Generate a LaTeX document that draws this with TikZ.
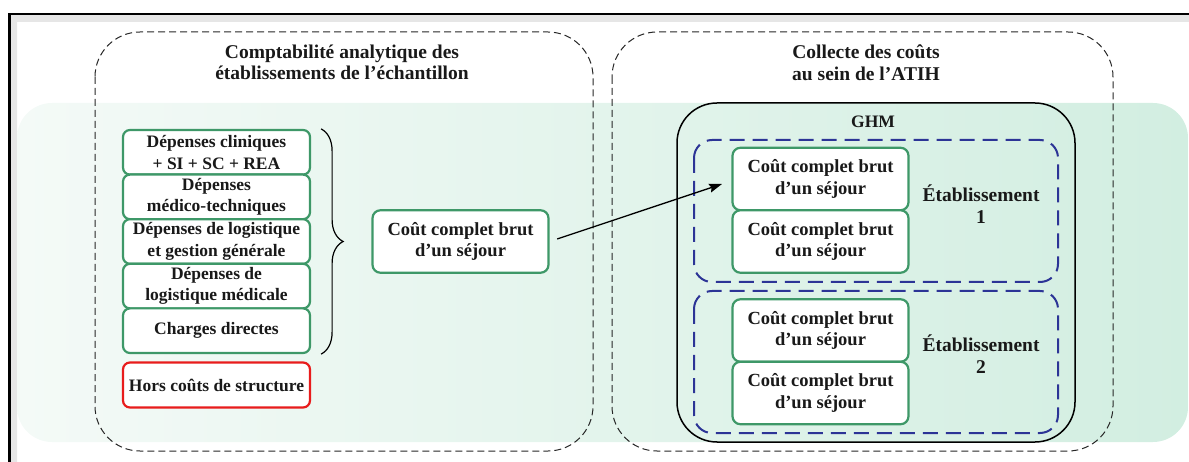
\documentclass[tikz,border=0pt]{standalone}
\usepackage{fontspec}
\setmainfont{Liberation Serif}
\usetikzlibrary{decorations.pathreplacing,arrows.meta}

\definecolor{boxgreen}{RGB}{62,152,104}
\definecolor{bgleft}{RGB}{244,250,247}
\definecolor{bgright}{RGB}{210,238,225}
\definecolor{estblue}{RGB}{44,52,150}
\definecolor{hcred}{RGB}{232,28,28}
\definecolor{bandgrey}{RGB}{230,230,230}

\begin{document}
\begin{tikzpicture}[x=1pt,y=-1pt,
  every node/.style={font=\bfseries\fontsize{17.5}{21.5}\selectfont, align=center, text=black!90},
  costbox/.style={draw=boxgreen, line width=2.2pt, fill=white, rounded corners=7pt,
    inner sep=0pt, minimum width=187pt, minimum height=44.6pt},
  sejourbox/.style={draw=boxgreen, line width=2.2pt, fill=white, rounded corners=8pt,
    inner sep=0pt, minimum width=176pt, minimum height=62.5pt,
    font=\bfseries\fontsize{18.5}{21.5}\selectfont},
  redbox/.style={draw=hcred, line width=2.2pt, fill=white, rounded corners=7pt,
    inner sep=0pt, minimum width=187pt, minimum height=45pt},
  titletext/.style={font=\bfseries\fontsize{19.5}{21.5}\selectfont},
  estlabel/.style={font=\bfseries\fontsize{19.5}{22}\selectfont},
  outerdash/.style={draw=black!85, line width=1pt, dash pattern=on 7pt off 4pt, rounded corners=45pt},
  estdash/.style={draw=estblue, line width=2pt, dash pattern=on 15pt off 8pt, rounded corners=18pt},
  ghmframe/.style={draw=black, line width=1.5pt, rounded corners=40pt},
  flow/.style={line width=1.3pt, -{Stealth[length=13pt,width=9pt,inset=2pt]}},
  bracestyle/.style={decorate, decoration={brace, amplitude=22pt}, line width=1.2pt}
]
\useasboundingbox (0,0) rectangle (1189,462);

% page frame with its grey inner band
\fill[bandgrey] (10,462) -- (10,15) -- (1189,15) -- (1189,22) -- (17,22) -- (17,462) -- cycle;
\draw[line width=2.5pt] (9.25,462) -- (9.25,14) -- (1189,14);

% green shaded band behind the diagram
\shade[left color=bgleft, right color=bgright, rounded corners=35pt] (17,103) rectangle (1188,442);

% the two dashed panels
\draw[outerdash] (95,32) rectangle (593,451);
\draw[outerdash] (612,32) rectangle (1113,451);

% GHM frame and the two establishments
\draw[ghmframe] (677,103) rectangle (1075,442);
\draw[estdash] (694,140) rectangle (1058,282);
\draw[estdash] (694,291) rectangle (1058,433);

% titles
\node[titletext] (titleL) at (342,62.5) {Comptabilité analytique des\\établissements de l’échantillon};
\node[titletext] (titleR) at (866,62.5) {Collecte des coûts\\au sein de l’ATIH};

% expense categories
\node[costbox] (d1) at (216.5,152.3) {Dépenses cliniques\\+ SI + SC + REA};
\node[costbox] (d2) at (216.5,196.9) {Dépenses\\médico-techniques};
\node[costbox] (d3) at (216.5,241.5) {Dépenses de logistique\\et gestion générale};
\node[costbox] (d4) at (216.5,286.1) {Dépenses de\\logistique médicale};
\node[costbox] (d5) at (216.5,330.7) {Charges directes};
\node[redbox] (hcs) at (216.5,385) {Hors coûts de structure};

% full cost of a stay
\node[sejourbox] (mid) at (460.5,241.5) {Coût complet brut\\d’un séjour};

% stays collected per establishment
\node[sejourbox] (sa) at (820.5,179) {Coût complet brut\\d’un séjour};
\node[sejourbox] (sb) at (820.5,241.5) {Coût complet brut\\d’un séjour};
\node[sejourbox] (sc) at (820.5,330.5) {Coût complet brut\\d’un séjour};
\node[sejourbox] (sd) at (820.5,393) {Coût complet brut\\d’un séjour};

\node (ghm) at (873,122) {GHM};
\node[estlabel] (est1) at (981,204) {Établissement\\1};
\node[estlabel] (est2) at (981,354) {Établissement\\2};

% brace gathering the categories
\draw[bracestyle] ([xshift=10pt]d1.north east) -- ([xshift=10pt]d5.south east);

% transfer arrow
\coordinate (tipA) at (722,184);
\draw[flow, shorten <=8pt] (mid.east) -- (tipA);
\end{tikzpicture}
\end{document}
